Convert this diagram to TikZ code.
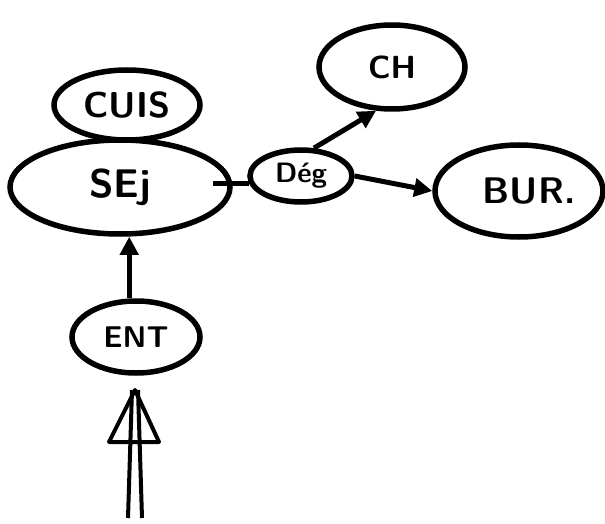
\documentclass[tikz,border=0pt]{standalone}
\usepackage{fontspec}
\usetikzlibrary{shapes.geometric,arrows.meta}
\tikzset{
  room/.style={draw, ellipse, line width=5.5pt, inner sep=0pt, font=\sffamily\bfseries},
  link/.style={line width=5pt, -{Triangle[length=18pt,width=18pt]}},
  pen/.style={line width=4pt, line join=round}
}
\begin{document}
\begin{tikzpicture}[x=1pt,y=-1pt]
\useasboundingbox (0,0) rectangle (605,524);
\node[room, minimum width=146pt, minimum height=70pt] (CUIS) at (127,105) {\fontsize{36}{38}\selectfont CUIS};
\node[room, minimum width=220pt, minimum height=94pt] (SEJ) at (120,187) {\fontsize{40}{42}\selectfont SEj};
\node[room, minimum width=102pt, minimum height=52pt] (Deg) at (301,176) {\fontsize{28}{30}\selectfont Dég};
\node[room, minimum width=146pt, minimum height=84pt] (CH) at (392,67) {\fontsize{32}{34}\selectfont CH};
\node[room, minimum width=168pt, minimum height=92pt] (BUR) at (519,191) {\fontsize{37}{39}\selectfont\hspace{20pt}BUR.};
\node[room, minimum width=128pt, minimum height=72pt] (ENT) at (136,337) {\fontsize{30}{32}\selectfont ENT};
\draw[link] (ENT.100) -- (ENT.100 |- SEJ.south);
\draw[link] (Deg.65) -- (CH.250);
\draw[link] (Deg.east) -- (BUR.west);
\draw[line width=5pt, shorten >=-20pt] (Deg.188) -- (Deg.188 -| SEJ.east);
\coordinate (tip) at (135,390);
\coordinate (foot) at (135,518);
\draw[pen] ([xshift=-7pt]foot) -- ([xshift=-3pt]tip);
\draw[pen] ([xshift=7pt]foot) -- ([xshift=3pt]tip);
\draw[pen] (tip) -- ++(-26,52) -- ++(50,0) -- cycle;
\end{tikzpicture}
\end{document}
